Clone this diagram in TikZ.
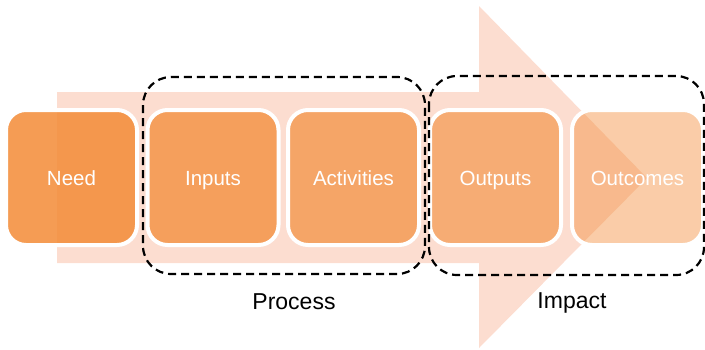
\documentclass[tikz,border=0pt]{standalone}
\usepackage{fontspec}
\setmainfont{Liberation Sans}
\definecolor{arrowc}{RGB}{252,221,208}
\definecolor{orangec}{RGB}{243,140,56}
\begin{document}
\begin{tikzpicture}[x=1pt,y=-1pt,
  stage/.style={draw=white, line width=4pt, rounded corners=20pt, fill=orangec,
    minimum width=131pt, minimum height=135pt, inner sep=0pt,
    text height=17pt, text depth=2pt,
    text=white, font=\fontsize{20.5}{24}\selectfont},
  group/.style={draw=black, line width=2.2pt, dash pattern=on 8pt off 5pt, rounded corners=28pt},
  glabel/.style={font=\fontsize{23}{27}\selectfont, text=black}]
\useasboundingbox (0,0) rectangle (705,349);
% big arrow
\fill[arrowc] (57,92) -- (479,92) -- (479,6) -- (647,178) -- (479,348) -- (479,263) -- (57,263) -- cycle;
% stages
\node[stage, fill opacity=0.86, text opacity=1] (need) at (71.5,177.5) {Need};
\node[stage, fill opacity=0.76, text opacity=1] (inputs) at (213,177.5) {Inputs};
\node[stage, fill opacity=0.69, text opacity=1] (activities) at (353.5,177.5) {Activities};
\node[stage, fill opacity=0.6, text opacity=1] (outputs) at (495.5,177.5) {Outputs};
\node[stage, fill opacity=0.44, text opacity=1] (outcomes) at (637.5,177.5) {Outcomes};
% groups
\draw[group] (143,77) rectangle (425,274);
\draw[group] (429,76) rectangle (704,275);
\node[glabel] (process) at (294,302) {Process};
\node[glabel] (impact) at (572,303) {Impact};
\end{tikzpicture}
\end{document}
